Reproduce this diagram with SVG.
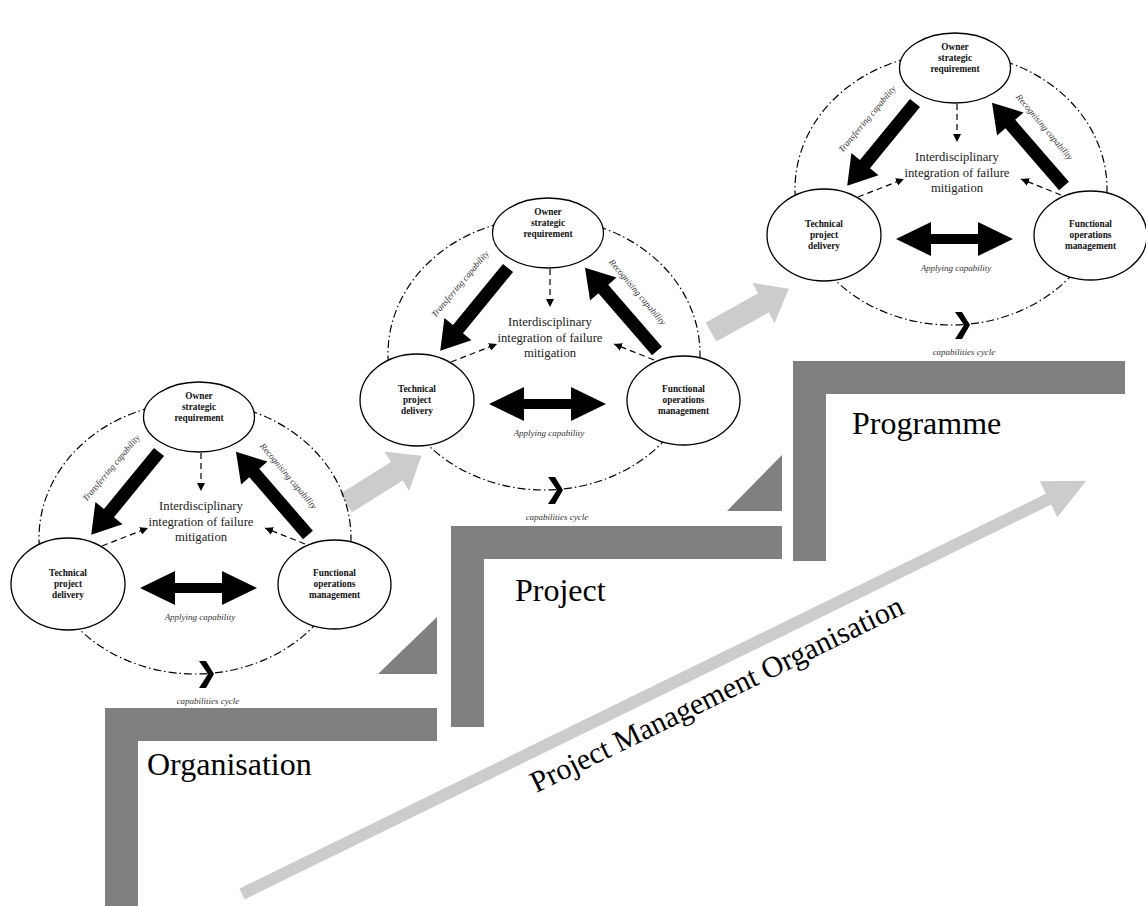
<svg xmlns="http://www.w3.org/2000/svg" width="1146" height="906" viewBox="0 0 1146 906">
<defs>
<style>
.stair{fill:#808080}
.grey{fill:#cccccc}
.node ellipse{fill:#fff;stroke:#000;stroke-width:1.3}
.nt{font-family:"Liberation Serif",serif;font-weight:bold;font-size:9.3px;text-anchor:middle;fill:#111}
.cyc{fill:none;stroke:#000;stroke-width:1.2;stroke-dasharray:8 3 1.5 3}
.thick{fill:#000}
.dash{fill:none;stroke:#000;stroke-width:1.2;stroke-dasharray:6 4;marker-end:url(#ah)}
.lab{font-family:"Liberation Serif",serif;font-style:italic;font-size:9px;text-anchor:middle;fill:#333}
.ctr{font-family:"Liberation Serif",serif;font-size:12.7px;text-anchor:middle;fill:#222}
.big{font-family:"Liberation Serif",serif;font-size:32px;fill:#000}
</style>
<marker id="ah" viewBox="0 0 10 10" refX="10" refY="5" markerWidth="8" markerHeight="8" markerUnits="userSpaceOnUse" orient="auto"><path d="M0,0 L10,5 L0,10 z" fill="#000"/></marker>
</defs>
<rect width="1146" height="906" fill="#fff"/>

<g id="stairs">
<path class="stair" d="M105,708 H437 V741 H138 V906 H105 Z"/>
<polygon class="stair" points="378,674 437,617 437,674"/>
<path class="stair" d="M451,526 H782 V559 H484 V727 H451 Z"/>
<polygon class="stair" points="727,511 782,455 782,511"/>
<path class="stair" d="M793,361 H1125 V394 H826 V561 H793 Z"/>
<text class="big" x="147" y="775">Organisation</text>
<text class="big" x="515" y="601">Project</text>
<text class="big" x="852" y="434">Programme</text>
</g>

<g id="growth-arrow">
<g transform="translate(242,894) rotate(-26.08)">
<rect class="grey" x="0" y="-6" width="902" height="12"/>
<polygon class="grey" points="898,-20 940,0 898,20"/>
</g>
<text font-family="Liberation Serif, serif" font-size="30" text-anchor="middle" transform="translate(721,703) rotate(-26)">Project Management Organisation</text>
</g>

<g id="transition-arrows">
<g transform="translate(346,503) rotate(-32)"><polygon class="grey" points="0,-11 60,-11 60,-23 89,0 60,23 60,11 0,11"/></g>
<g transform="translate(711,332) rotate(-29)"><polygon class="grey" points="0,-11 60,-11 60,-23 89,0 60,23 60,11 0,11"/></g>
</g>

<g id="connectors">
<g id="c1-connectors">
<ellipse class="cyc" cx="195" cy="538" rx="156" ry="136"/>
<polygon class="thick" points="199,661 206,661 214,674 206,688 199,688 208,674"/>
<polygon class="thick" transform="translate(159,452) rotate(129.3)" points="0,-6.5 79,-6.5 79,-17.5 107,0 79,17.5 79,6.5 0,6.5"/>
<polygon class="thick" transform="translate(308,535) rotate(-130.9)" points="0,-6.5 82,-6.5 82,-17.5 110,0 82,17.5 82,6.5 0,6.5"/>
<polygon class="thick" points="140,588 175,571 175,583 222,583 222,571 257,588 222,605 222,593 175,593 175,605"/>
<path class="dash" d="M201,453 L201,491"/>
<path class="dash" d="M102,546 L148,528"/>
<path class="dash" d="M305,544 L265,528"/>
<text class="lab" transform="translate(111,468) rotate(-50)" y="3">Transferring capability</text>
<text class="lab" transform="translate(288.5,476) rotate(50)" y="3">Recognising capability</text>
<text class="lab" x="200" y="620" font-size="9.5">Applying capability</text>
<text class="lab" x="208" y="704">capabilities cycle</text>
</g>
<g id="c2-connectors" transform="translate(349,-184)">
<ellipse class="cyc" cx="195" cy="538" rx="156" ry="136"/>
<polygon class="thick" points="199,661 206,661 214,674 206,688 199,688 208,674"/>
<polygon class="thick" transform="translate(159,452) rotate(129.3)" points="0,-6.5 79,-6.5 79,-17.5 107,0 79,17.5 79,6.5 0,6.5"/>
<polygon class="thick" transform="translate(308,535) rotate(-130.9)" points="0,-6.5 82,-6.5 82,-17.5 110,0 82,17.5 82,6.5 0,6.5"/>
<polygon class="thick" points="140,588 175,571 175,583 222,583 222,571 257,588 222,605 222,593 175,593 175,605"/>
<path class="dash" d="M201,453 L201,491"/>
<path class="dash" d="M102,546 L148,528"/>
<path class="dash" d="M305,544 L265,528"/>
<text class="lab" transform="translate(111,468) rotate(-50)" y="3">Transferring capability</text>
<text class="lab" transform="translate(288.5,476) rotate(50)" y="3">Recognising capability</text>
<text class="lab" x="200" y="620" font-size="9.5">Applying capability</text>
<text class="lab" x="208" y="704">capabilities cycle</text>
</g>
<g id="c3-connectors" transform="translate(756,-349)">
<ellipse class="cyc" cx="195" cy="538" rx="156" ry="136"/>
<polygon class="thick" points="199,661 206,661 214,674 206,688 199,688 208,674"/>
<polygon class="thick" transform="translate(159,452) rotate(129.3)" points="0,-6.5 79,-6.5 79,-17.5 107,0 79,17.5 79,6.5 0,6.5"/>
<polygon class="thick" transform="translate(308,535) rotate(-130.9)" points="0,-6.5 82,-6.5 82,-17.5 110,0 82,17.5 82,6.5 0,6.5"/>
<polygon class="thick" points="140,588 175,571 175,583 222,583 222,571 257,588 222,605 222,593 175,593 175,605"/>
<path class="dash" d="M201,453 L201,491"/>
<path class="dash" d="M102,546 L148,528"/>
<path class="dash" d="M305,544 L265,528"/>
<text class="lab" transform="translate(111,468) rotate(-50)" y="3">Transferring capability</text>
<text class="lab" transform="translate(288.5,476) rotate(50)" y="3">Recognising capability</text>
<text class="lab" x="200" y="620" font-size="9.5">Applying capability</text>
<text class="lab" x="208" y="704">capabilities cycle</text>
</g>
</g>

<g id="cycle1">
<g id="c1-owner" class="node"><ellipse cx="199" cy="417" rx="55.5" ry="35"/><text class="nt" x="199" y="399">Owner</text><text class="nt" x="199" y="410">strategic</text><text class="nt" x="199" y="421">requirement</text></g>
<g id="c1-technical" class="node"><ellipse cx="68" cy="584" rx="57" ry="46"/><text class="nt" x="68" y="576">Technical</text><text class="nt" x="68" y="587">project</text><text class="nt" x="68" y="598">delivery</text></g>
<g id="c1-functional" class="node"><ellipse cx="334.5" cy="584.5" rx="56.5" ry="44.5"/><text class="nt" x="334.5" y="576">Functional</text><text class="nt" x="334.5" y="587">operations</text><text class="nt" x="334.5" y="598">management</text></g>
<g id="c1-integration"><text class="ctr" x="201" y="510">Interdisciplinary</text><text class="ctr" x="201" y="525.5">integration of failure</text><text class="ctr" x="201" y="541">mitigation</text></g>
</g>

<g id="cycle2" transform="translate(349,-184)">
<g id="c2-owner" class="node"><ellipse cx="199" cy="417" rx="55.5" ry="35"/><text class="nt" x="199" y="399">Owner</text><text class="nt" x="199" y="410">strategic</text><text class="nt" x="199" y="421">requirement</text></g>
<g id="c2-technical" class="node"><ellipse cx="68" cy="584" rx="57" ry="46"/><text class="nt" x="68" y="576">Technical</text><text class="nt" x="68" y="587">project</text><text class="nt" x="68" y="598">delivery</text></g>
<g id="c2-functional" class="node"><ellipse cx="334.5" cy="584.5" rx="56.5" ry="44.5"/><text class="nt" x="334.5" y="576">Functional</text><text class="nt" x="334.5" y="587">operations</text><text class="nt" x="334.5" y="598">management</text></g>
<g id="c2-integration"><text class="ctr" x="201" y="510">Interdisciplinary</text><text class="ctr" x="201" y="525.5">integration of failure</text><text class="ctr" x="201" y="541">mitigation</text></g>
</g>

<g id="cycle3" transform="translate(756,-349)">
<g id="c3-owner" class="node"><ellipse cx="199" cy="417" rx="55.5" ry="35"/><text class="nt" x="199" y="399">Owner</text><text class="nt" x="199" y="410">strategic</text><text class="nt" x="199" y="421">requirement</text></g>
<g id="c3-technical" class="node"><ellipse cx="68" cy="584" rx="57" ry="46"/><text class="nt" x="68" y="576">Technical</text><text class="nt" x="68" y="587">project</text><text class="nt" x="68" y="598">delivery</text></g>
<g id="c3-functional" class="node"><ellipse cx="334.5" cy="584.5" rx="56.5" ry="44.5"/><text class="nt" x="334.5" y="576">Functional</text><text class="nt" x="334.5" y="587">operations</text><text class="nt" x="334.5" y="598">management</text></g>
<g id="c3-integration"><text class="ctr" x="201" y="510">Interdisciplinary</text><text class="ctr" x="201" y="525.5">integration of failure</text><text class="ctr" x="201" y="541">mitigation</text></g>
</g>
</svg>
